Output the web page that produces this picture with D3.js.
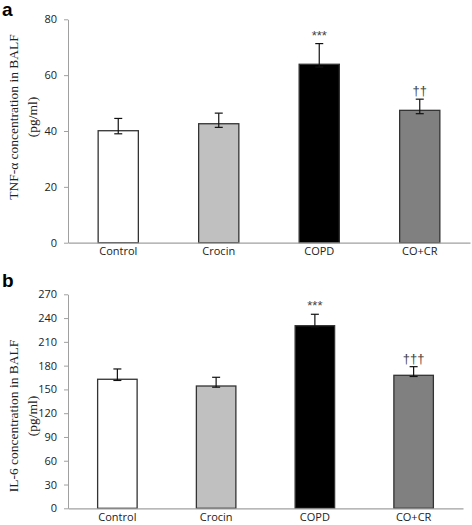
<!DOCTYPE html>
<html><head><meta charset="utf-8">
<script src="https://cdn.jsdelivr.net/npm/d3@7"></script>
<style>body{margin:0;background:#fff}svg{display:block}</style>
</head><body>
<svg id="c" width="472" height="525"></svg>
<script>
const categories = ["Control","Crocin","COPD","CO+CR"];
const barColors = ["#ffffff","#c0c0c0","#000000","#808080"];
// Panel a: TNF-alpha
const tnfValues = [40.1, 42.6, 63.9, 47.4];
const tnfErrUp = [4.4, 3.8, 7.4, 4.0];
const tnfErrDown = [1.1, 1.3, 1.0, 1.2];
const tnfTicks = [0,20,40,60,80];
const tnfMarks = ["","","***","††"];
// Panel b: IL-6
const il6Values = [162.8, 154.3, 230.4, 167.8];
const il6ErrUp = [13.0, 11.0, 14.4, 10.9];
const il6ErrDown = [1.5, 1.5, 1.5, 1.5];
const il6Ticks = [0,30,60,90,120,150,180,210,240,270];
const il6Marks = ["","","***","†††"];

const svg = d3.select("#c");

function panel(opt){
  const g = svg.append("g");
  const x = d3.scaleBand().domain(categories).range([opt.x0, opt.x1]).paddingInner(0.6).paddingOuter(0.3);
  const y = d3.scaleLinear().domain([0, opt.max]).range([opt.yb, opt.yt]);
  const ya = g.append("g").attr("transform",`translate(${opt.x0},0)`)
    .call(d3.axisLeft(y).tickValues(opt.ticks).tickSize(4).tickPadding(7).tickSizeOuter(0));
  ya.select(".domain").attr("stroke","#a0a0a0");
  ya.selectAll(".tick line").attr("stroke","#a0a0a0");
  ya.selectAll("text").attr("font-family","'Open Sans', 'Liberation Sans', sans-serif").attr("font-size",11).attr("fill","#222");
  g.selectAll("rect.bar").data(opt.values).enter().append("rect")
    .attr("x",(d,i)=>x(categories[i])).attr("width",x.bandwidth())
    .attr("y",d=>y(d)).attr("height",d=>y(0)-y(d))
    .attr("fill",(d,i)=>barColors[i]).attr("stroke","#333").attr("stroke-width",1.3);
  const cx = i => x(categories[i])+x.bandwidth()/2;
  const eg = g.selectAll("g.err").data(opt.values).enter().append("g");
  eg.append("line").attr("x1",(d,i)=>cx(i)).attr("x2",(d,i)=>cx(i))
    .attr("y1",(d,i)=>y(d+opt.up[i])).attr("y2",(d,i)=>y(d-opt.down[i])).attr("stroke","#111").attr("stroke-width",1.2);
  eg.append("line").attr("x1",(d,i)=>cx(i)-4).attr("x2",(d,i)=>cx(i)+4)
    .attr("y1",(d,i)=>y(d+opt.up[i])).attr("y2",(d,i)=>y(d+opt.up[i])).attr("stroke","#111").attr("stroke-width",1.2);
  eg.append("line").attr("x1",(d,i)=>cx(i)-4).attr("x2",(d,i)=>cx(i)+4)
    .attr("y1",(d,i)=>y(d-opt.down[i])).attr("y2",(d,i)=>y(d-opt.down[i])).attr("stroke","#111").attr("stroke-width",1.2);
  g.selectAll("text.mk").data(opt.values).enter().append("text")
    .attr("x",(d,i)=>cx(i)).attr("y",(d,i)=>y(d+opt.up[i])-4)
    .attr("text-anchor","middle").attr("font-family","'Liberation Sans', sans-serif").attr("font-size",13).attr("fill","#444")
    .text((d,i)=>opt.marks[i]);
  const xa = g.append("g").attr("transform",`translate(0,${opt.yb})`)
    .call(d3.axisBottom(x).tickSize(0).tickPadding(5));
  xa.select(".domain").attr("stroke","#a0a0a0").attr("stroke-width",1.2);
  xa.selectAll("text").attr("font-family","'Open Sans', 'Liberation Sans', sans-serif").attr("font-size",11).attr("fill","#222");
  const t = g.append("text").attr("transform",`translate(0,${opt.tc}) rotate(-90)`)
    .attr("text-anchor","middle").attr("font-family","'Liberation Serif', serif").attr("font-size",13.5).attr("fill","#222");
  t.append("tspan").attr("x",0).attr("y",18).text(opt.title);
  t.append("tspan").attr("x",0).attr("y",37).text("(pg/ml)");
  g.append("text").attr("x",2).attr("y",opt.ly).attr("font-family","'Liberation Sans', Arial, sans-serif")
    .attr("font-weight","bold").attr("font-size",19).attr("fill","#000").text(opt.letter);
}

panel({x0:68, x1:470, yt:19.3, yb:242.7, max:80, ticks:tnfTicks, values:tnfValues, up:tnfErrUp, down:tnfErrDown,
  marks:tnfMarks, title:"TNF-α concentration in BALF", tc:117, letter:"a", ly:16});
panel({x0:68, x1:463, yt:294.3, yb:508.3, max:270, ticks:il6Ticks, values:il6Values, up:il6ErrUp, down:il6ErrDown,
  marks:il6Marks, title:"IL-6 concentration in BALF", tc:416, letter:"b", ly:287});
</script>
</body></html>
